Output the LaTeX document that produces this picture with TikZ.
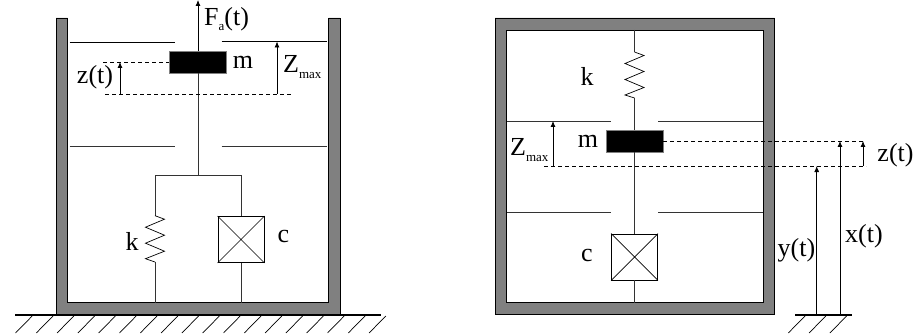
\documentclass[tikz,border=0pt]{standalone}
\usepackage{fontspec}
\setmainfont{Liberation Serif}
\usetikzlibrary{arrows.meta}
\tikzset{
    wall/.style={draw=black, fill=black!50, line width=0.7pt},
    thin line/.style={line width=0.8pt, black!80},
    dashline/.style={line width=0.7pt, dash pattern=on 4pt off 3pt},
    arrowline/.style={line width=0.8pt, -{Latex[length=6pt,width=5pt]}},
    block/.style={rectangle, draw=black!50, fill=black, minimum width=57pt, minimum height=22pt, inner sep=0pt},
    damperbox/.style={rectangle, draw, line width=0.8pt, minimum width=46pt, minimum height=46pt, inner sep=0pt},
    txt/.style={inner sep=0pt, font=\fontsize{26}{28}\selectfont}
}
\newcommand{\lowtext}[1]{\raisebox{-5.5pt}{\fontsize{13}{14}\selectfont #1}}
\newcommand{\spring}[2]{\draw[line width=0.7pt] (#1) -- ++(9.5,3.5) -- ++(-19,8) -- ++(19,8) -- ++(-19,8) -- ++(19,8) -- ++(-19,7.5) -- (#2);}
\begin{document}
\begin{tikzpicture}[x=1pt, y=-1pt]
    \useasboundingbox (0,0) rectangle (913,334);
    % left
    \draw[wall] (56,18) -- (67.5,18) -- (67.5,302.7) -- (328.5,302.7) -- (328.5,18) -- (340,18) -- (340,314) -- (56,314) -- cycle;
    \draw[line width=2pt] (15,315) -- (381,315);
    \foreach \x in {0,...,17}
        \draw[line width=0.7pt] (15.5+\x*20.8,333) -- ++(16.7,-17);
    \node[block] (m1) at (198,62) {};
    \node[damperbox] (c1) at (241,239.5) {};
    \draw[line width=0.7pt] (c1.north west) -- (c1.south east) (c1.north east) -- (c1.south west);
    \coordinate (top1) at (198,0);
    \coordinate (join1) at (198,175);
    \coordinate (jk1) at (155,175);
    \coordinate (jc1) at (241,175);
    \coordinate (k1a) at (155,215.7);
    \coordinate (k1b) at (155,262);
    \coordinate (fk1) at (155,302.7);
    \coordinate (fc1) at (241,302.7);
    \draw[thin line] (join1) -- (m1);
    \draw[arrowline] (m1) -- (top1);
    \draw[thin line] (jk1) -- (jc1);
    \draw[thin line] (jk1) -- (k1a);
    \spring{k1a}{k1b}
    \draw[thin line] (k1b) -- (fk1);
    \draw[thin line] (jc1) -- (c1);
    \draw[thin line] (c1) -- (fc1);
    \draw[line width=0.8pt] (69.5,42.5) -- (175,42.5);
    \draw[line width=0.8pt] (221.5,41.5) -- (327,41.5);
    \draw[thin line] (69.5,146) -- (175,146);
    \draw[thin line] (221.5,146) -- (327,146);
    \coordinate (za1) at (103,62);
    \coordinate (zb1) at (105,94);
    \coordinate (zc1) at (292,94);
    \coordinate (zd1) at (120,94);
    \coordinate (ze1) at (120,62);
    \coordinate (zf1) at (277,94);
    \coordinate (zg1) at (277,41.5);
    \draw[dashline] (za1) -- (m1.west);
    \draw[dashline] (zb1) -- (zc1);
    \draw[arrowline] (zd1) -- (ze1);
    \draw[arrowline] (zf1) -- (zg1);
    \node[txt, anchor=west] (fa) at (204,19) {F\lowtext{a}(t)};
    \node[txt] (lm1) at (243,62) {m};
    \node[txt] (lz1) at (95,77) {z(t)};
    \node[txt, anchor=west] (lzm1) at (283,67) {Z\lowtext{max}};
    \node[txt] (lk1) at (132,241) {k};
    \node[txt] (lc1) at (283.5,237) {c};
    % right
    \draw[wall, even odd rule] (495,18) rectangle (774.7,314) (506.5,30) rectangle (763,302.7);
    \node[block] (m2) at (634.5,141) {};
    \node[damperbox] (c2) at (634.5,257) {};
    \draw[line width=0.7pt] (c2.north west) -- (c2.south east) (c2.north east) -- (c2.south west);
    \coordinate (top2) at (634.5,30);
    \coordinate (k2a) at (634.5,52);
    \coordinate (k2b) at (634.5,98);
    \coordinate (bot2) at (634.5,302.7);
    \draw[thin line] (top2) -- (k2a);
    \spring{k2a}{k2b}
    \draw[thin line] (k2b) -- (m2);
    \draw[thin line] (m2) -- (c2);
    \draw[thin line] (c2) -- (bot2);
    \draw[thin line] (506.5,121) -- (611,121);
    \draw[thin line] (658,121) -- (763,121);
    \draw[thin line] (506.5,212) -- (611,212);
    \draw[thin line] (658,212) -- (763,212);
    \coordinate (za2) at (866,141);
    \coordinate (zb2) at (544,166);
    \coordinate (zc2) at (866,166);
    \coordinate (zd2) at (553,166);
    \coordinate (ze2) at (553,121);
    \coordinate (g2y) at (816.7,315);
    \coordinate (e2y) at (816.7,166);
    \coordinate (g2x) at (840,315);
    \coordinate (e2x) at (840,141);
    \coordinate (zf2) at (863,166);
    \coordinate (zg2) at (863,141);
    \draw[dashline] (m2.east) -- (za2);
    \draw[dashline] (zb2) -- (zc2);
    \draw[arrowline] (zd2) -- (ze2);
    \draw[arrowline] (g2y) -- (e2y);
    \draw[arrowline] (g2x) -- (e2x);
    \draw[arrowline] (zf2) -- (zg2);
    \draw[line width=2pt] (795,315) -- (852,315);
    \foreach \x in {0,1,2}
        \draw[line width=0.7pt] (788.3+\x*20.8,333) -- ++(16.7,-17);
    \node[txt] (lk2) at (587,76) {k};
    \node[txt] (lm2) at (588,141) {m};
    \node[txt, anchor=west] (lzm2) at (510,150) {Z\lowtext{max}};
    \node[txt] (lc2) at (587,256) {c};
    \node[txt] (lz2) at (895.5,155) {z(t)};
    \node[txt] (ly2) at (796.5,250) {y(t)};
    \node[txt] (lx2) at (864,236) {x(t)};
\end{tikzpicture}
\end{document}
